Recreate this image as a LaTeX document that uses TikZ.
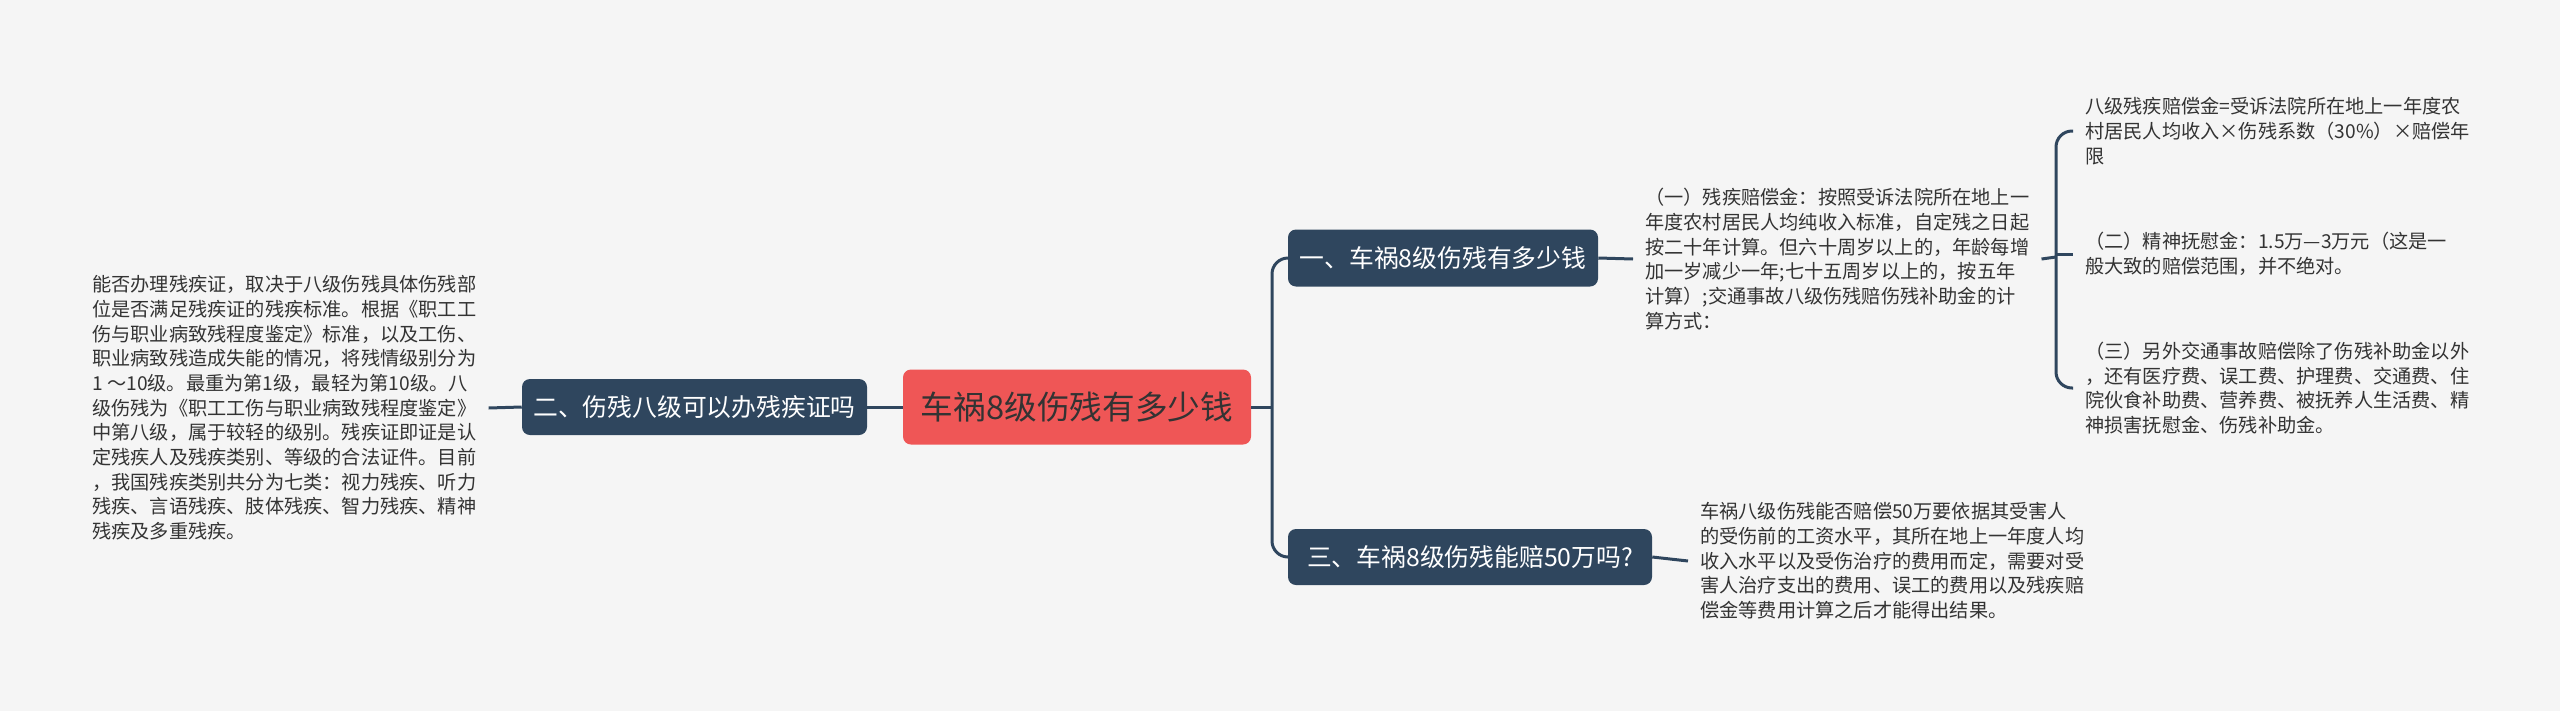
\documentclass[tikz,border=0pt]{standalone}
\usepackage{fontspec}
\setmainfont{Noto Sans CJK SC}
\definecolor{bg}{HTML}{F5F5F5}
\definecolor{navy}{HTML}{2F465E}
\definecolor{redbox}{HTML}{EF5656}
\definecolor{txt}{HTML}{333333}
\tikzset{
  topic/.style={rectangle, rounded corners=6pt, fill=navy, text=white, inner sep=0pt,
    font=\fontsize{18.6pt}{22pt}\selectfont},
  central/.style={rectangle, rounded corners=6pt, fill=redbox, text=txt, inner sep=0pt,
    font=\fontsize{24.5pt}{28pt}\selectfont},
  leaf/.style={align=left, text=txt, inner xsep=9pt, inner ysep=0pt,
    font=\fontsize{14.4pt}{18.5pt}\selectfont},
  conn/.style={draw=navy, line width=2.25pt},
}
\begin{document}
\begin{tikzpicture}[x=0.75pt, y=-0.75pt]
\fill[bg] (0,0) rectangle (2560,711);
\useasboundingbox (0,0) rectangle (2560,711);

\node[central, minimum width=261pt, minimum height=56.25pt] (c) at (1077,407) {车祸8级伤残有多少钱};
\node[topic, minimum width=258.75pt, minimum height=42pt] (n2) at (694.5,407) {二、伤残八级可以办残疾证吗};
\node[topic, minimum width=232.5pt, minimum height=42.75pt] (n1) at (1443,258) {一、车祸8级伤残有多少钱};
\node[topic, minimum width=273pt, minimum height=42pt] (n3) at (1470,557) {三、车祸8级伤残能赔50万吗?};

\node[leaf, anchor=west] (t2) at (80,408) {能否办理残疾证，取决于八级伤残具体伤残部\\
位是否满足残疾证的残疾标准。根据《职工工\\
伤与职业病致残程度鉴定》标准，以及工伤、\\
职业病致残造成失能的情况，将残情级别分为\\
1 ～10级。最重为第1级，最轻为第10级。八\\
级伤残为《职工工伤与职业病致残程度鉴定》\\
中第八级，属于较轻的级别。残疾证即证是认\\
定残疾人及残疾类别、等级的合法证件。目前\\
，我国残疾类别共分为七类：视力残疾、听力\\
残疾、言语残疾、肢体残疾、智力残疾、精神\\
残疾及多重残疾。};

\node[leaf, anchor=west] (t1) at (1633,259) {（一）残疾赔偿金：按照受诉法院所在地上一\\
年度农村居民人均纯收入标准，自定残之日起\\
按二十年计算。但六十周岁以上的，年龄每增\\
加一岁减少一年;七十五周岁以上的，按五年\\
计算）;交通事故八级伤残赔伤残补助金的计\\
算方式：};

\node[leaf, anchor=west] (t3) at (1688,561) {车祸八级伤残能否赔偿50万要依据其受害人\\
的受伤前的工资水平，其所在地上一年度人均\\
收入水平以及受伤治疗的费用而定，需要对受\\
害人治疗支出的费用、误工的费用以及残疾赔\\
偿金等费用计算之后才能得出结果。};

\node[leaf, anchor=west] (r1) at (2073,131) {八级残疾赔偿金=受诉法院所在地上一年度农\\
村居民人均收入×伤残系数（30\%）×赔偿年\\
限};
\node[leaf, anchor=west] (r2) at (2073,254) {（二）精神抚慰金：1.5万—3万元（这是一\\
般大致的赔偿范围，并不绝对。};
\node[leaf, anchor=west] (r3) at (2073,388) {（三）另外交通事故赔偿除了伤残补助金以外\\
，还有医疗费、误工费、护理费、交通费、住\\
院伙食补助费、营养费、被抚养人生活费、精\\
神损害抚慰金、伤残补助金。};

\coordinate (j1) at (1272,407);
\coordinate (j2) at (2056,257);

% connectors
\draw[conn] (c.west) -- (n2.east);
\draw[conn] (n2.west) -- (t2.east);
\draw[conn] (c.east) -- (j1);
\draw[conn, rounded corners=12pt] (n1.west) -| (j1) |- (n3.west);
\draw[conn] (n1.east) -- (t1.west);
\draw[conn] (n3.east) -- (t3.west);
\draw[conn] (t1.east) -- (j2);
\draw[conn, rounded corners=12pt] (r1.west) -| (j2) |- (r3.west);
\draw[conn] (j2 |- r2.west) -- (r2.west);
\end{tikzpicture}
\end{document}
